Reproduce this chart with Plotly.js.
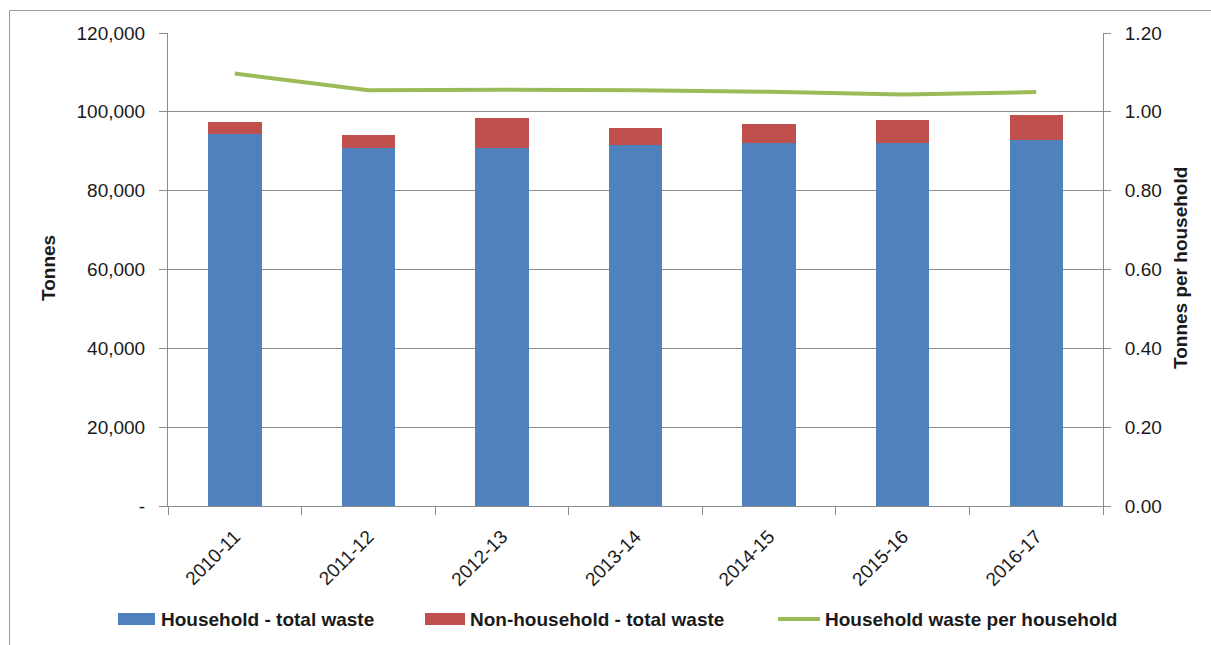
<!DOCTYPE html>
<html>
<head>
<meta charset="utf-8">
<script src="https://cdn.plot.ly/plotly-3.0.1.min.js"></script>
<style>
html,body{margin:0;padding:0;background:#fff;}
#chart{width:1211px;height:645px;}
</style>
</head>
<body>
<div id="chart"></div>
<script>
const years = ["2010-11","2011-12","2012-13","2013-14","2014-15","2015-16","2016-17"];
const householdTotal = [94450, 90900, 90900, 91600, 92100, 92100, 92900];
const nonHouseholdTotal = [3050, 3150, 7450, 4380, 4750, 5850, 6250];
const perHousehold = [1.097, 1.055, 1.056, 1.055, 1.051, 1.044, 1.050];
const leftTickVals = [0, 20000, 40000, 60000, 80000, 100000, 120000];
const leftTickText = ["-", "20,000", "40,000", "60,000", "80,000", "100,000", "120,000"];
const rightTickVals = [0, 0.2, 0.4, 0.6, 0.8, 1.0, 1.2];
const rightTickText = ["0.00", "0.20", "0.40", "0.60", "0.80", "1.00", "1.20"];
const seriesNames = ["Household - total waste", "Non-household - total waste", "Household waste per household"];
const seriesColors = ["#4F81BD", "#C0504D", "#9BBB59"];

const FONT = "Liberation Sans, Arial, sans-serif";
const TXT = "#1a1a1a";
const GRID = "#8c8c8c";

const traces = [
  {type:"bar", name:seriesNames[0], x:years, y:householdTotal,
   marker:{color:seriesColors[0]}, width:0.4},
  {type:"bar", name:seriesNames[1], x:years, y:nonHouseholdTotal,
   marker:{color:seriesColors[1]}, width:0.4},
  {type:"scatter", mode:"lines", name:seriesNames[2], x:years, y:perHousehold,
   yaxis:"y2", line:{color:seriesColors[2], width:4}}
];

// plot-area pixel helpers for layout placement (margins l=168, t=33, width 935, height 473)
const PX = v => (v - 168) / 935;
const PY = v => (506 - v) / 473;

// manual legend (Excel-style wide swatches)
const legY = 619;
const legendItems = [
  {sx0:118, sx1:155, tx:159, kind:"rect"},
  {sx0:425, sx1:465, tx:468, kind:"rect"},
  {sx0:778, sx1:820, tx:823, kind:"line"}
];
const legendShapes = legendItems.map((it, i) => it.kind === "rect"
  ? {type:"rect", xref:"paper", yref:"paper", x0:PX(it.sx0), x1:PX(it.sx1), y0:PY(legY+6), y1:PY(legY-6),
     fillcolor:seriesColors[i], line:{width:0}}
  : {type:"line", xref:"paper", yref:"paper", x0:PX(it.sx0), x1:PX(it.sx1), y0:PY(legY), y1:PY(legY),
     line:{color:seriesColors[i], width:4}});
const legendTexts = legendItems.map((it, i) => ({
  text:"<b>" + seriesNames[i] + "</b>", xref:"paper", yref:"paper", x:PX(it.tx), y:PY(legY),
  xanchor:"left", yanchor:"middle", showarrow:false, font:{size:19, color:TXT}
}));

const layout = {
  width:1211, height:645,
  margin:{l:168, r:108, t:33, b:139},
  paper_bgcolor:"#fff", plot_bgcolor:"#fff",
  barmode:"stack",
  font:{family:FONT, color:TXT, size:19},
  showlegend:false,
  xaxis:{type:"category", showline:true, linecolor:GRID, linewidth:1,
         ticks:"outside", ticklen:8, tickcolor:GRID, tickson:"boundaries",
         tickangle:-45, tickfont:{size:19, color:TXT}, showgrid:false, zeroline:false,
         ticklabelstandoff:11},
  yaxis:{range:[0,120000], tickvals:leftTickVals, ticktext:leftTickText,
         showline:true, linecolor:GRID, linewidth:1, ticks:"outside", ticklen:8, tickcolor:GRID,
         showgrid:true, gridcolor:GRID, gridwidth:1, zeroline:false,
         tickfont:{size:19, color:TXT}, ticklabelstandoff:10},
  yaxis2:{range:[0,1.2], overlaying:"y", side:"right", tickvals:rightTickVals, ticktext:rightTickText,
          showline:true, linecolor:GRID, linewidth:1, ticks:"outside", ticklen:7, tickcolor:GRID,
          showgrid:false, zeroline:false, tickfont:{size:19, color:TXT}, ticklabelstandoff:10},
  annotations:[
    {text:"<b>Tonnes</b>", xref:"paper", yref:"paper", x:PX(48), y:PY(268),
     xanchor:"center", yanchor:"middle", textangle:-90, showarrow:false, font:{size:19, color:TXT}},
    {text:"<b>Tonnes per household</b>", xref:"paper", yref:"paper", x:PX(1180), y:PY(268),
     xanchor:"center", yanchor:"middle", textangle:-90, showarrow:false, font:{size:19, color:TXT}}
  ].concat(legendTexts),
  shapes:[
    {type:"rect", xref:"paper", yref:"paper", x0:PX(9.5), x1:1.2, y0:-0.4, y1:PY(10.5),
     line:{color:"#9a9a9a", width:1}, fillcolor:"rgba(0,0,0,0)", layer:"below"}
  ].concat(legendShapes)
};

Plotly.newPlot("chart", traces, layout, {displayModeBar:false, staticPlot:true});
</script>
</body>
</html>
